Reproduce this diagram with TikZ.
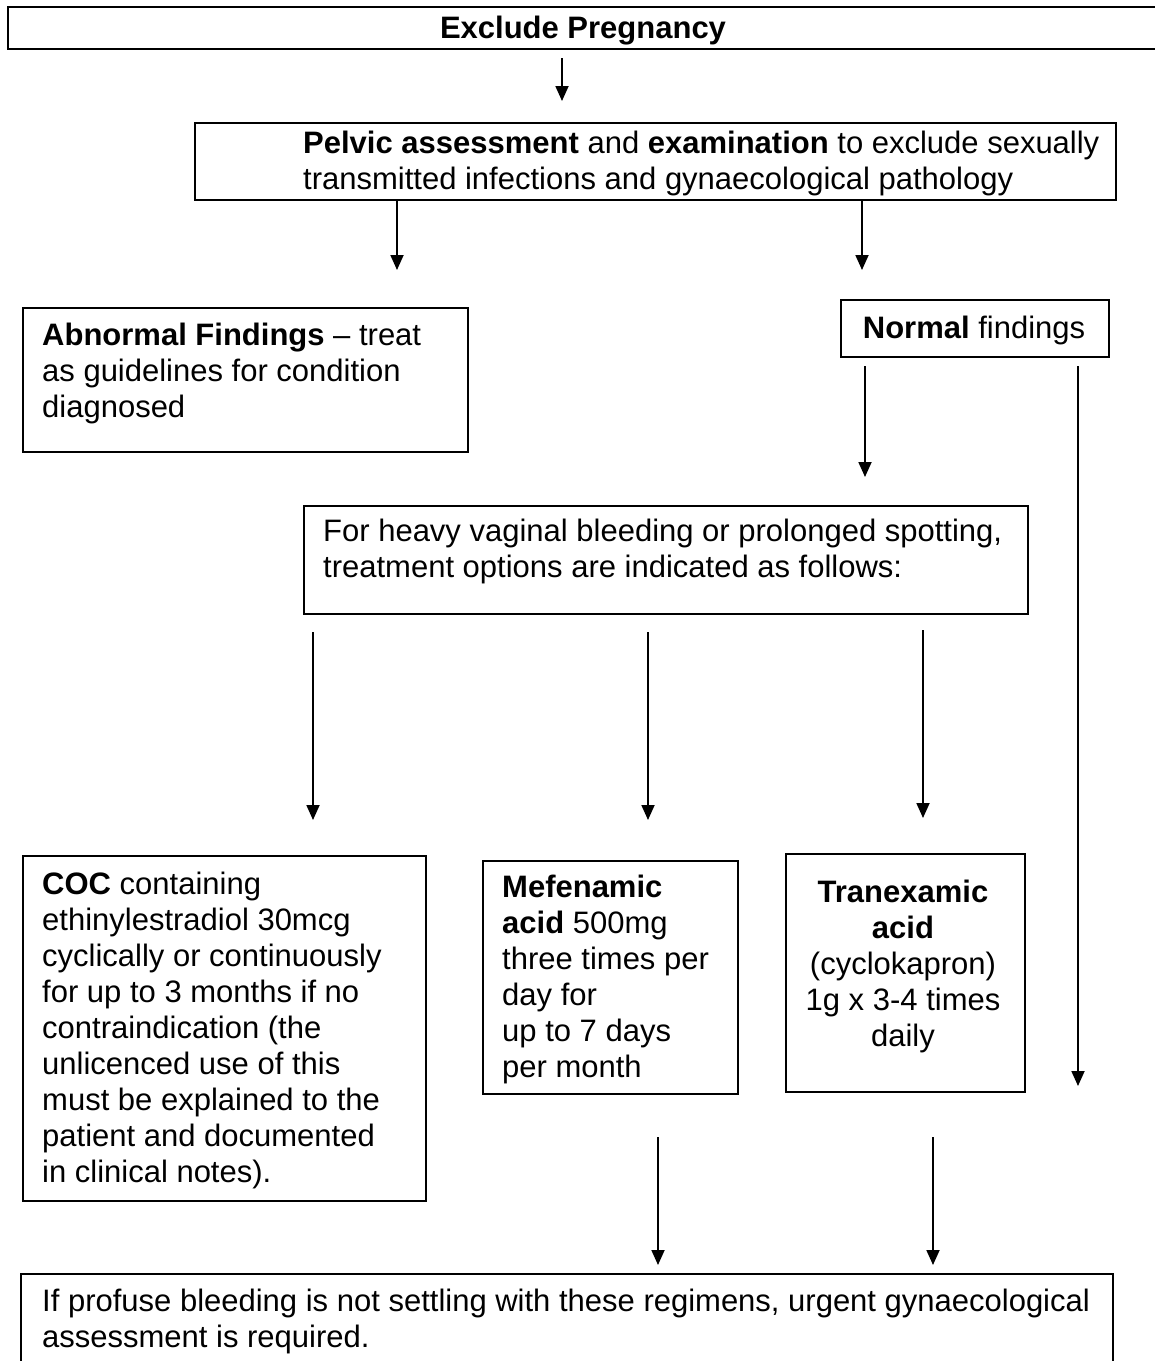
\documentclass[tikz,border=0pt]{standalone}
\usepackage{fontspec}
\setmainfont{Liberation Sans}
\usetikzlibrary{arrows.meta}
\begin{document}
\begin{tikzpicture}[x=1pt,y=-1pt,
  box/.style={draw, line width=1.6pt, inner sep=0pt, anchor=north west},
  txt/.style={inner sep=0pt, font=\fontsize{31}{36}\selectfont},
  arr/.style={line width=1.8pt, -{Triangle[length=15pt,width=13pt]}}]
\useasboundingbox (0,0) rectangle (1155,1361);
\clip (0,0) rectangle (1155,1361);
% boxes
\node[box, line width=2.2pt, minimum width=1200pt, minimum height=42pt] (top) at (7,6) {};
\node[box, minimum width=921pt, minimum height=77pt] (pelvic) at (194,122) {};
\node[box, minimum width=445pt, minimum height=144pt] (abn) at (22,307) {};
\node[box, minimum width=268pt, minimum height=57pt] (norm) at (840,299) {};
\node[box, minimum width=724pt, minimum height=108pt] (heavy) at (303,505) {};
\node[box, minimum width=403pt, minimum height=345pt] (coc) at (22,855) {};
\node[box, minimum width=255pt, minimum height=233pt] (mef) at (482,860) {};
\node[box, minimum width=239pt, minimum height=238pt] (tran) at (785,853) {};
\node[box, minimum width=1092pt, minimum height=120pt] (final) at (20,1273) {};
% texts
\node[txt, anchor=base] (top-t) at (583,38) {\textbf{Exclude Pregnancy}};
\node[txt, anchor=base west] (pelvic-t) at (303,153) {\parbox[t]{820pt}{\raggedright\textbf{Pelvic assessment} and \textbf{examination} to exclude sexually\\ transmitted infections and gynaecological pathology}};
\node[txt, anchor=base west] (abn-t) at (42,345) {\parbox[t]{430pt}{\raggedright\textbf{Abnormal Findings} -- treat\\ as guidelines for condition\\ diagnosed}};
\node[txt, anchor=base] (norm-t) at (974,338) {\textbf{Normal} findings};
\node[txt, anchor=base west] (heavy-t) at (323,541) {\parbox[t]{720pt}{\raggedright For heavy vaginal bleeding or prolonged spotting,\\ treatment options are indicated as follows:}};
\node[txt, anchor=base west] (coc-t) at (42,894) {\parbox[t]{400pt}{\raggedright\textbf{COC} containing\\ ethinylestradiol 30mcg\\ cyclically or continuously\\ for up to 3 months if no\\ contraindication (the\\ unlicenced use of this\\ must be explained to the\\ patient and documented\\ in clinical notes).}};
\node[txt, anchor=base west] (mef-t) at (502,897) {\parbox[t]{250pt}{\raggedright\textbf{Mefenamic}\\ \textbf{acid} 500mg\\ three times per\\ day for\\ up to 7 days\\ per month}};
\node[txt, anchor=base] (tran-t) at (903,902) {\parbox[t]{300pt}{\centering\textbf{Tranexamic}\\ \textbf{acid}\\ (cyclokapron)\\ 1g x 3-4 times\\ daily}};
\node[txt, anchor=base west] (final-t) at (42,1311) {\parbox[t]{1080pt}{\raggedright If profuse bleeding is not settling with these regimens, urgent gynaecological\\ assessment is required.}};
% arrow end points
\coordinate (a1s) at (562,58);   \coordinate (a1e) at (562,101);
\coordinate (a2s) at (397,201);  \coordinate (a2e) at (397,270);
\coordinate (a3s) at (862,201);  \coordinate (a3e) at (862,270);
\coordinate (a4s) at (865,366);  \coordinate (a4e) at (865,477);
\coordinate (a5s) at (1078,366); \coordinate (a5e) at (1078,1086);
\coordinate (a6s) at (313,632);  \coordinate (a6e) at (313,820);
\coordinate (a7s) at (648,632);  \coordinate (a7e) at (648,820);
\coordinate (a8s) at (923,630);  \coordinate (a8e) at (923,818);
\coordinate (a9s) at (658,1137); \coordinate (a9e) at (658,1265);
\coordinate (a10s) at (933,1137); \coordinate (a10e) at (933,1265);
\foreach \i in {1,...,10} {\draw[arr] (a\i s) -- (a\i e);}
\end{tikzpicture}
\end{document}
